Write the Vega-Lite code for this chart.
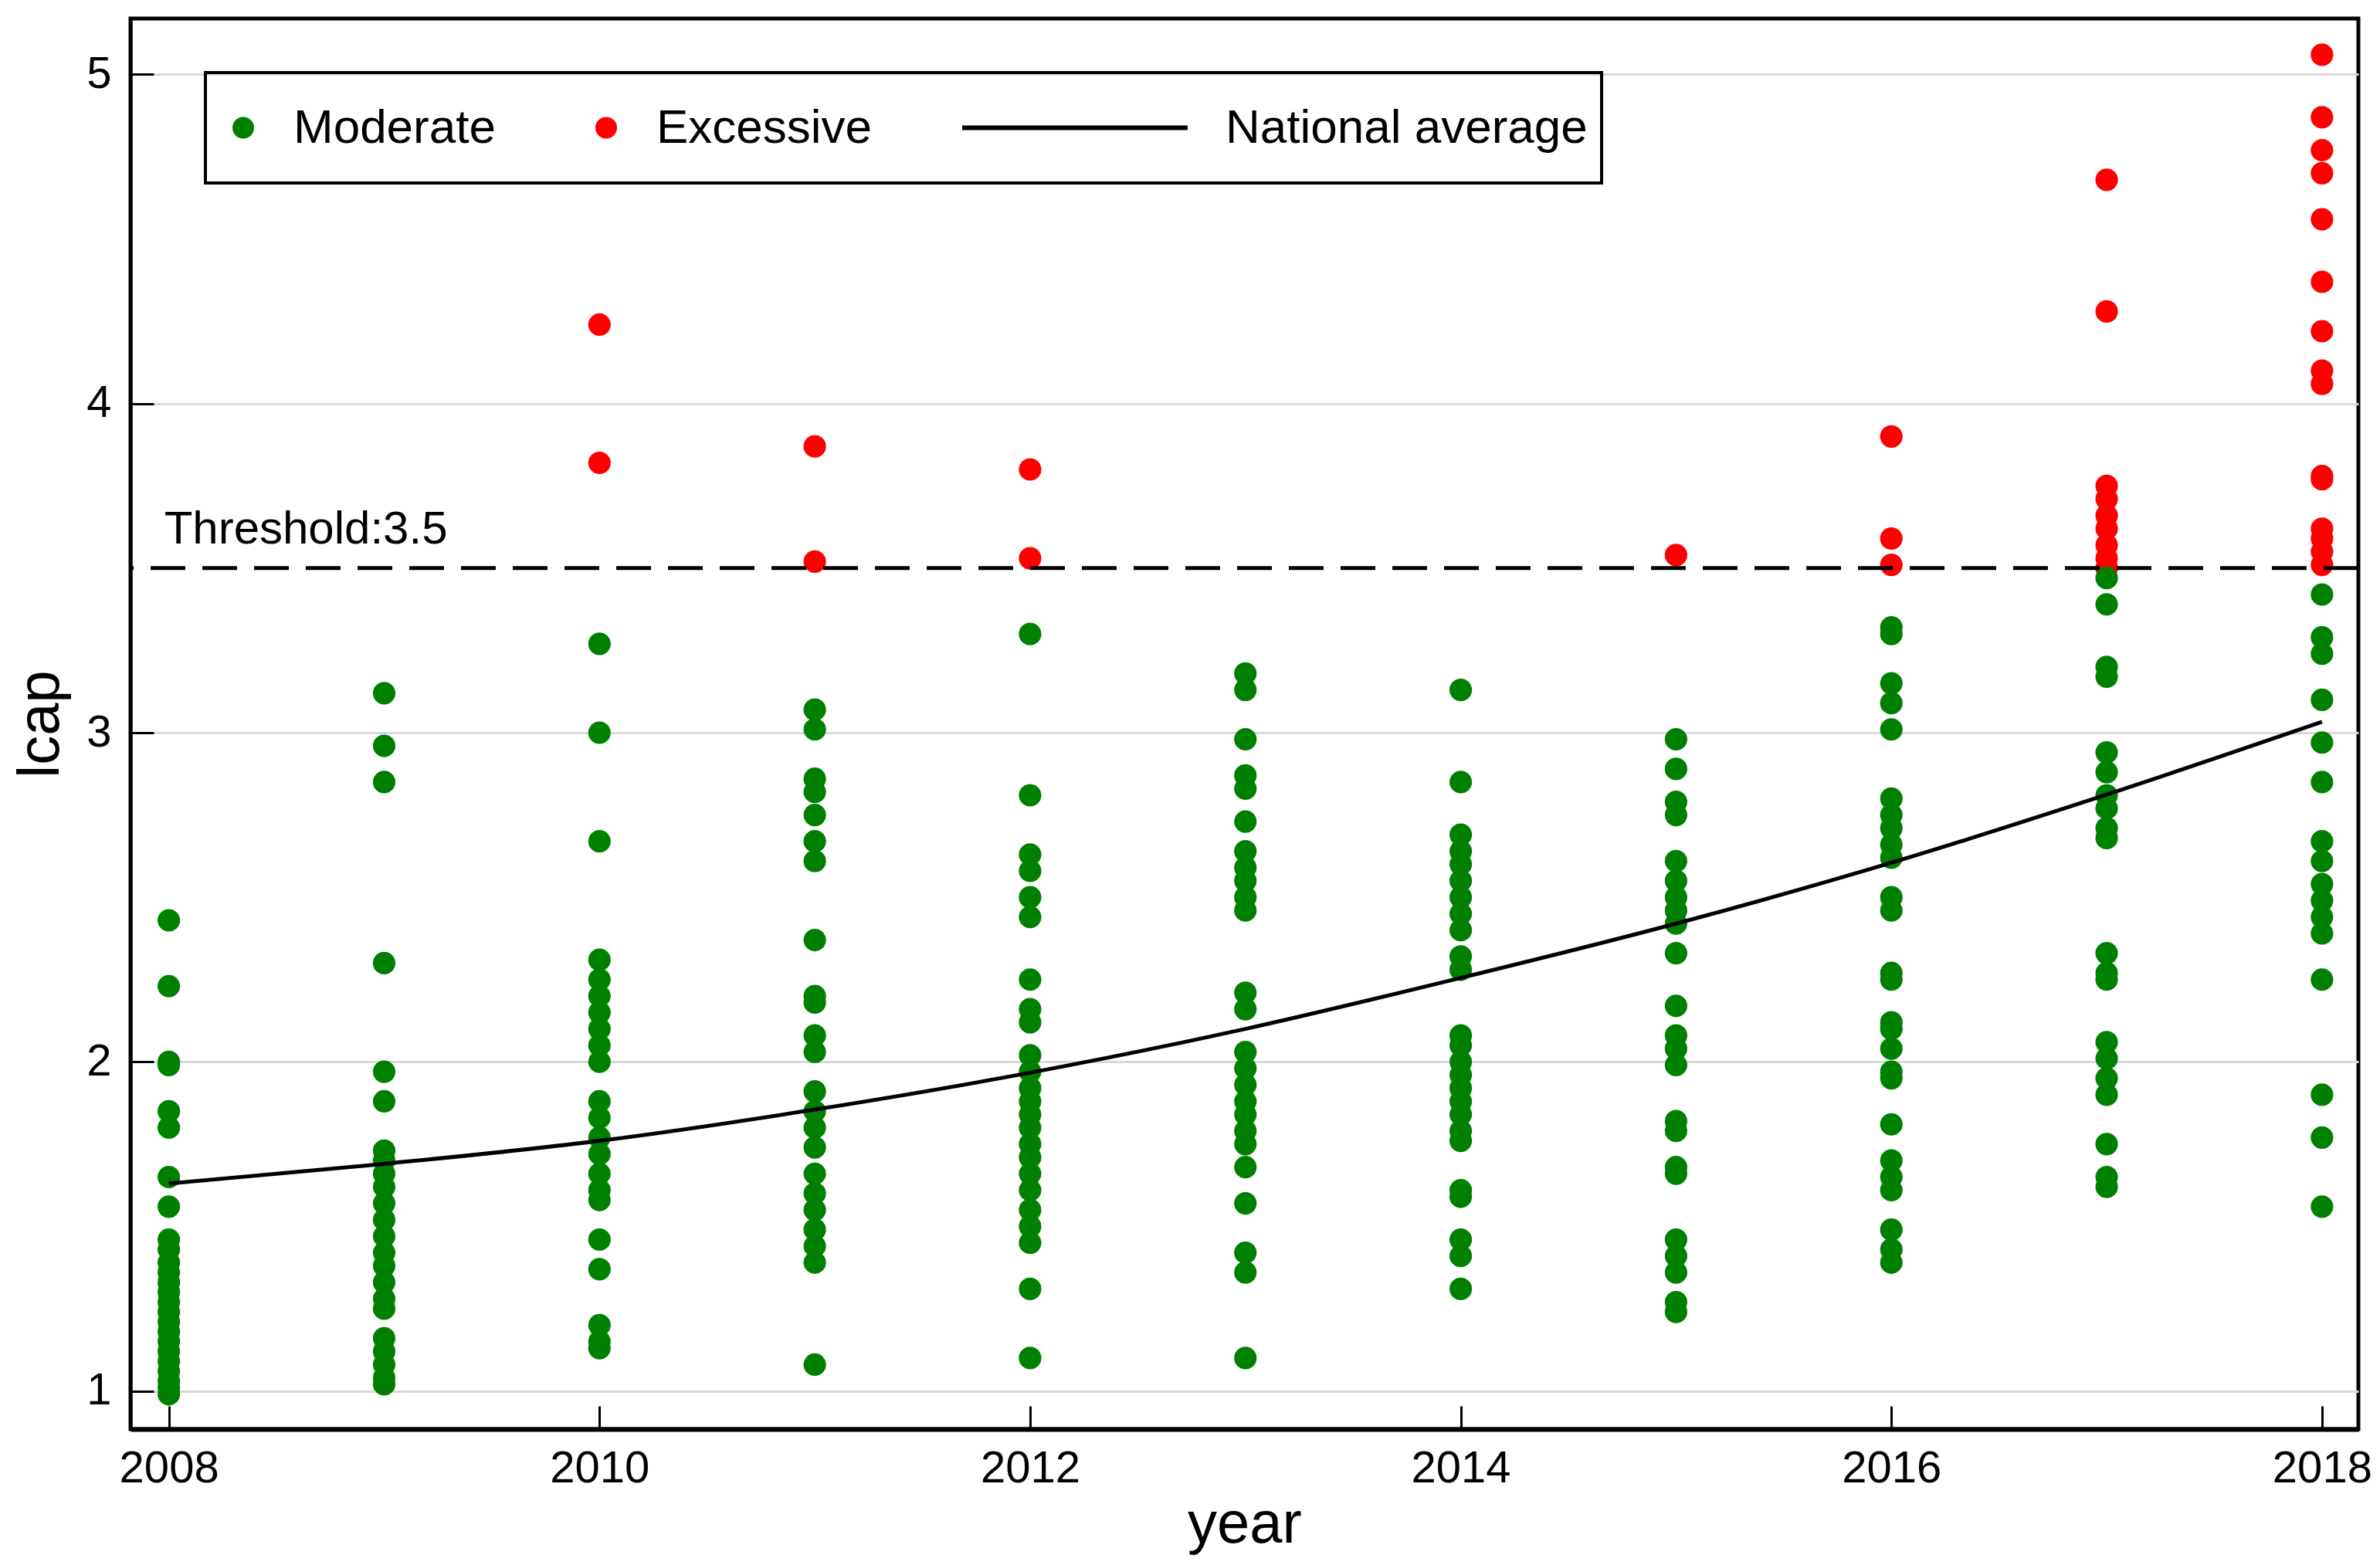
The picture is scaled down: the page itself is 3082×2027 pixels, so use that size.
{
  "$schema": "https://vega.github.io/schema/vega-lite/v6.json",
  "width": 2885,
  "height": 1827,
  "autosize": {"type": "none"},
  "padding": {"left": 169, "top": 24, "right": 28, "bottom": 176},
  "background": "white",
  "config": {
    "font": "Liberation Sans",
    "view": {"stroke": "black", "strokeWidth": 5},
    "axis": {
      "labelFont": "Liberation Sans",
      "titleFont": "Liberation Sans",
      "labelColor": "black",
      "titleColor": "black",
      "labelFontSize": 58,
      "titleFontSize": 76,
      "titleFontWeight": "normal",
      "tickColor": "black",
      "tickWidth": 3,
      "tickSize": -30,
      "domainColor": "black",
      "gridColor": "#d9d9d9",
      "gridWidth": 3
    },
    "legend": {
      "strokeWidth": 4,
      "title": null,
      "orient": "none",
      "legendX": 97,
      "legendY": 70,
      "direction": "horizontal",
      "strokeColor": "black",
      "padding": 18,
      "columnPadding": 112,
      "clipHeight": 107,
      "labelFont": "Liberation Sans",
      "labelFontSize": 62,
      "labelColor": "black",
      "labelLimit": 2000,
      "labelOffset": 34,
      "symbolSize": 784,
      "symbolStrokeWidth": 0
    }
  },
  "datasets": {
    "points": [
      {"year": 2008, "lcap": 2.43, "group": "Moderate"},
      {"year": 2008, "lcap": 2.23, "group": "Moderate"},
      {"year": 2008, "lcap": 2.0, "group": "Moderate"},
      {"year": 2008, "lcap": 1.99, "group": "Moderate"},
      {"year": 2008, "lcap": 1.85, "group": "Moderate"},
      {"year": 2008, "lcap": 1.8, "group": "Moderate"},
      {"year": 2008, "lcap": 1.65, "group": "Moderate"},
      {"year": 2008, "lcap": 1.56, "group": "Moderate"},
      {"year": 2008, "lcap": 1.46, "group": "Moderate"},
      {"year": 2008, "lcap": 1.43, "group": "Moderate"},
      {"year": 2008, "lcap": 1.39, "group": "Moderate"},
      {"year": 2008, "lcap": 1.36, "group": "Moderate"},
      {"year": 2008, "lcap": 1.33, "group": "Moderate"},
      {"year": 2008, "lcap": 1.3, "group": "Moderate"},
      {"year": 2008, "lcap": 1.27, "group": "Moderate"},
      {"year": 2008, "lcap": 1.24, "group": "Moderate"},
      {"year": 2008, "lcap": 1.21, "group": "Moderate"},
      {"year": 2008, "lcap": 1.18, "group": "Moderate"},
      {"year": 2008, "lcap": 1.15, "group": "Moderate"},
      {"year": 2008, "lcap": 1.12, "group": "Moderate"},
      {"year": 2008, "lcap": 1.09, "group": "Moderate"},
      {"year": 2008, "lcap": 1.06, "group": "Moderate"},
      {"year": 2008, "lcap": 1.03, "group": "Moderate"},
      {"year": 2008, "lcap": 1.01, "group": "Moderate"},
      {"year": 2008, "lcap": 0.99, "group": "Moderate"},
      {"year": 2009, "lcap": 3.12, "group": "Moderate"},
      {"year": 2009, "lcap": 2.96, "group": "Moderate"},
      {"year": 2009, "lcap": 2.85, "group": "Moderate"},
      {"year": 2009, "lcap": 2.3, "group": "Moderate"},
      {"year": 2009, "lcap": 1.97, "group": "Moderate"},
      {"year": 2009, "lcap": 1.88, "group": "Moderate"},
      {"year": 2009, "lcap": 1.73, "group": "Moderate"},
      {"year": 2009, "lcap": 1.7, "group": "Moderate"},
      {"year": 2009, "lcap": 1.66, "group": "Moderate"},
      {"year": 2009, "lcap": 1.62, "group": "Moderate"},
      {"year": 2009, "lcap": 1.57, "group": "Moderate"},
      {"year": 2009, "lcap": 1.52, "group": "Moderate"},
      {"year": 2009, "lcap": 1.47, "group": "Moderate"},
      {"year": 2009, "lcap": 1.42, "group": "Moderate"},
      {"year": 2009, "lcap": 1.38, "group": "Moderate"},
      {"year": 2009, "lcap": 1.33, "group": "Moderate"},
      {"year": 2009, "lcap": 1.28, "group": "Moderate"},
      {"year": 2009, "lcap": 1.25, "group": "Moderate"},
      {"year": 2009, "lcap": 1.16, "group": "Moderate"},
      {"year": 2009, "lcap": 1.12, "group": "Moderate"},
      {"year": 2009, "lcap": 1.08, "group": "Moderate"},
      {"year": 2009, "lcap": 1.04, "group": "Moderate"},
      {"year": 2009, "lcap": 1.02, "group": "Moderate"},
      {"year": 2010, "lcap": 4.24, "group": "Excessive"},
      {"year": 2010, "lcap": 3.82, "group": "Excessive"},
      {"year": 2010, "lcap": 3.27, "group": "Moderate"},
      {"year": 2010, "lcap": 3.0, "group": "Moderate"},
      {"year": 2010, "lcap": 2.67, "group": "Moderate"},
      {"year": 2010, "lcap": 2.31, "group": "Moderate"},
      {"year": 2010, "lcap": 2.25, "group": "Moderate"},
      {"year": 2010, "lcap": 2.2, "group": "Moderate"},
      {"year": 2010, "lcap": 2.15, "group": "Moderate"},
      {"year": 2010, "lcap": 2.1, "group": "Moderate"},
      {"year": 2010, "lcap": 2.05, "group": "Moderate"},
      {"year": 2010, "lcap": 2.0, "group": "Moderate"},
      {"year": 2010, "lcap": 1.88, "group": "Moderate"},
      {"year": 2010, "lcap": 1.83, "group": "Moderate"},
      {"year": 2010, "lcap": 1.77, "group": "Moderate"},
      {"year": 2010, "lcap": 1.72, "group": "Moderate"},
      {"year": 2010, "lcap": 1.66, "group": "Moderate"},
      {"year": 2010, "lcap": 1.61, "group": "Moderate"},
      {"year": 2010, "lcap": 1.58, "group": "Moderate"},
      {"year": 2010, "lcap": 1.46, "group": "Moderate"},
      {"year": 2010, "lcap": 1.37, "group": "Moderate"},
      {"year": 2010, "lcap": 1.2, "group": "Moderate"},
      {"year": 2010, "lcap": 1.15, "group": "Moderate"},
      {"year": 2010, "lcap": 1.13, "group": "Moderate"},
      {"year": 2011, "lcap": 3.87, "group": "Excessive"},
      {"year": 2011, "lcap": 3.52, "group": "Excessive"},
      {"year": 2011, "lcap": 3.07, "group": "Moderate"},
      {"year": 2011, "lcap": 3.01, "group": "Moderate"},
      {"year": 2011, "lcap": 2.86, "group": "Moderate"},
      {"year": 2011, "lcap": 2.82, "group": "Moderate"},
      {"year": 2011, "lcap": 2.75, "group": "Moderate"},
      {"year": 2011, "lcap": 2.67, "group": "Moderate"},
      {"year": 2011, "lcap": 2.61, "group": "Moderate"},
      {"year": 2011, "lcap": 2.37, "group": "Moderate"},
      {"year": 2011, "lcap": 2.2, "group": "Moderate"},
      {"year": 2011, "lcap": 2.18, "group": "Moderate"},
      {"year": 2011, "lcap": 2.08, "group": "Moderate"},
      {"year": 2011, "lcap": 2.03, "group": "Moderate"},
      {"year": 2011, "lcap": 1.91, "group": "Moderate"},
      {"year": 2011, "lcap": 1.85, "group": "Moderate"},
      {"year": 2011, "lcap": 1.8, "group": "Moderate"},
      {"year": 2011, "lcap": 1.74, "group": "Moderate"},
      {"year": 2011, "lcap": 1.66, "group": "Moderate"},
      {"year": 2011, "lcap": 1.6, "group": "Moderate"},
      {"year": 2011, "lcap": 1.55, "group": "Moderate"},
      {"year": 2011, "lcap": 1.49, "group": "Moderate"},
      {"year": 2011, "lcap": 1.44, "group": "Moderate"},
      {"year": 2011, "lcap": 1.39, "group": "Moderate"},
      {"year": 2011, "lcap": 1.08, "group": "Moderate"},
      {"year": 2012, "lcap": 3.8, "group": "Excessive"},
      {"year": 2012, "lcap": 3.53, "group": "Excessive"},
      {"year": 2012, "lcap": 3.3, "group": "Moderate"},
      {"year": 2012, "lcap": 2.81, "group": "Moderate"},
      {"year": 2012, "lcap": 2.63, "group": "Moderate"},
      {"year": 2012, "lcap": 2.58, "group": "Moderate"},
      {"year": 2012, "lcap": 2.5, "group": "Moderate"},
      {"year": 2012, "lcap": 2.44, "group": "Moderate"},
      {"year": 2012, "lcap": 2.25, "group": "Moderate"},
      {"year": 2012, "lcap": 2.16, "group": "Moderate"},
      {"year": 2012, "lcap": 2.12, "group": "Moderate"},
      {"year": 2012, "lcap": 2.02, "group": "Moderate"},
      {"year": 2012, "lcap": 1.97, "group": "Moderate"},
      {"year": 2012, "lcap": 1.92, "group": "Moderate"},
      {"year": 2012, "lcap": 1.88, "group": "Moderate"},
      {"year": 2012, "lcap": 1.84, "group": "Moderate"},
      {"year": 2012, "lcap": 1.8, "group": "Moderate"},
      {"year": 2012, "lcap": 1.75, "group": "Moderate"},
      {"year": 2012, "lcap": 1.71, "group": "Moderate"},
      {"year": 2012, "lcap": 1.66, "group": "Moderate"},
      {"year": 2012, "lcap": 1.61, "group": "Moderate"},
      {"year": 2012, "lcap": 1.55, "group": "Moderate"},
      {"year": 2012, "lcap": 1.5, "group": "Moderate"},
      {"year": 2012, "lcap": 1.45, "group": "Moderate"},
      {"year": 2012, "lcap": 1.31, "group": "Moderate"},
      {"year": 2012, "lcap": 1.1, "group": "Moderate"},
      {"year": 2013, "lcap": 3.18, "group": "Moderate"},
      {"year": 2013, "lcap": 3.13, "group": "Moderate"},
      {"year": 2013, "lcap": 2.98, "group": "Moderate"},
      {"year": 2013, "lcap": 2.87, "group": "Moderate"},
      {"year": 2013, "lcap": 2.83, "group": "Moderate"},
      {"year": 2013, "lcap": 2.73, "group": "Moderate"},
      {"year": 2013, "lcap": 2.64, "group": "Moderate"},
      {"year": 2013, "lcap": 2.59, "group": "Moderate"},
      {"year": 2013, "lcap": 2.55, "group": "Moderate"},
      {"year": 2013, "lcap": 2.5, "group": "Moderate"},
      {"year": 2013, "lcap": 2.46, "group": "Moderate"},
      {"year": 2013, "lcap": 2.21, "group": "Moderate"},
      {"year": 2013, "lcap": 2.16, "group": "Moderate"},
      {"year": 2013, "lcap": 2.03, "group": "Moderate"},
      {"year": 2013, "lcap": 1.98, "group": "Moderate"},
      {"year": 2013, "lcap": 1.93, "group": "Moderate"},
      {"year": 2013, "lcap": 1.88, "group": "Moderate"},
      {"year": 2013, "lcap": 1.84, "group": "Moderate"},
      {"year": 2013, "lcap": 1.79, "group": "Moderate"},
      {"year": 2013, "lcap": 1.75, "group": "Moderate"},
      {"year": 2013, "lcap": 1.68, "group": "Moderate"},
      {"year": 2013, "lcap": 1.57, "group": "Moderate"},
      {"year": 2013, "lcap": 1.42, "group": "Moderate"},
      {"year": 2013, "lcap": 1.36, "group": "Moderate"},
      {"year": 2013, "lcap": 1.1, "group": "Moderate"},
      {"year": 2014, "lcap": 3.13, "group": "Moderate"},
      {"year": 2014, "lcap": 2.85, "group": "Moderate"},
      {"year": 2014, "lcap": 2.69, "group": "Moderate"},
      {"year": 2014, "lcap": 2.64, "group": "Moderate"},
      {"year": 2014, "lcap": 2.6, "group": "Moderate"},
      {"year": 2014, "lcap": 2.55, "group": "Moderate"},
      {"year": 2014, "lcap": 2.5, "group": "Moderate"},
      {"year": 2014, "lcap": 2.45, "group": "Moderate"},
      {"year": 2014, "lcap": 2.4, "group": "Moderate"},
      {"year": 2014, "lcap": 2.32, "group": "Moderate"},
      {"year": 2014, "lcap": 2.28, "group": "Moderate"},
      {"year": 2014, "lcap": 2.08, "group": "Moderate"},
      {"year": 2014, "lcap": 2.05, "group": "Moderate"},
      {"year": 2014, "lcap": 2.0, "group": "Moderate"},
      {"year": 2014, "lcap": 1.96, "group": "Moderate"},
      {"year": 2014, "lcap": 1.92, "group": "Moderate"},
      {"year": 2014, "lcap": 1.88, "group": "Moderate"},
      {"year": 2014, "lcap": 1.84, "group": "Moderate"},
      {"year": 2014, "lcap": 1.79, "group": "Moderate"},
      {"year": 2014, "lcap": 1.76, "group": "Moderate"},
      {"year": 2014, "lcap": 1.61, "group": "Moderate"},
      {"year": 2014, "lcap": 1.59, "group": "Moderate"},
      {"year": 2014, "lcap": 1.46, "group": "Moderate"},
      {"year": 2014, "lcap": 1.41, "group": "Moderate"},
      {"year": 2014, "lcap": 1.31, "group": "Moderate"},
      {"year": 2015, "lcap": 3.54, "group": "Excessive"},
      {"year": 2015, "lcap": 2.98, "group": "Moderate"},
      {"year": 2015, "lcap": 2.89, "group": "Moderate"},
      {"year": 2015, "lcap": 2.79, "group": "Moderate"},
      {"year": 2015, "lcap": 2.75, "group": "Moderate"},
      {"year": 2015, "lcap": 2.61, "group": "Moderate"},
      {"year": 2015, "lcap": 2.55, "group": "Moderate"},
      {"year": 2015, "lcap": 2.5, "group": "Moderate"},
      {"year": 2015, "lcap": 2.46, "group": "Moderate"},
      {"year": 2015, "lcap": 2.42, "group": "Moderate"},
      {"year": 2015, "lcap": 2.33, "group": "Moderate"},
      {"year": 2015, "lcap": 2.17, "group": "Moderate"},
      {"year": 2015, "lcap": 2.08, "group": "Moderate"},
      {"year": 2015, "lcap": 2.04, "group": "Moderate"},
      {"year": 2015, "lcap": 1.99, "group": "Moderate"},
      {"year": 2015, "lcap": 1.82, "group": "Moderate"},
      {"year": 2015, "lcap": 1.79, "group": "Moderate"},
      {"year": 2015, "lcap": 1.68, "group": "Moderate"},
      {"year": 2015, "lcap": 1.66, "group": "Moderate"},
      {"year": 2015, "lcap": 1.46, "group": "Moderate"},
      {"year": 2015, "lcap": 1.41, "group": "Moderate"},
      {"year": 2015, "lcap": 1.36, "group": "Moderate"},
      {"year": 2015, "lcap": 1.27, "group": "Moderate"},
      {"year": 2015, "lcap": 1.24, "group": "Moderate"},
      {"year": 2016, "lcap": 3.9, "group": "Excessive"},
      {"year": 2016, "lcap": 3.59, "group": "Excessive"},
      {"year": 2016, "lcap": 3.51, "group": "Excessive"},
      {"year": 2016, "lcap": 3.32, "group": "Moderate"},
      {"year": 2016, "lcap": 3.3, "group": "Moderate"},
      {"year": 2016, "lcap": 3.15, "group": "Moderate"},
      {"year": 2016, "lcap": 3.09, "group": "Moderate"},
      {"year": 2016, "lcap": 3.01, "group": "Moderate"},
      {"year": 2016, "lcap": 2.8, "group": "Moderate"},
      {"year": 2016, "lcap": 2.75, "group": "Moderate"},
      {"year": 2016, "lcap": 2.71, "group": "Moderate"},
      {"year": 2016, "lcap": 2.66, "group": "Moderate"},
      {"year": 2016, "lcap": 2.62, "group": "Moderate"},
      {"year": 2016, "lcap": 2.5, "group": "Moderate"},
      {"year": 2016, "lcap": 2.46, "group": "Moderate"},
      {"year": 2016, "lcap": 2.27, "group": "Moderate"},
      {"year": 2016, "lcap": 2.25, "group": "Moderate"},
      {"year": 2016, "lcap": 2.12, "group": "Moderate"},
      {"year": 2016, "lcap": 2.1, "group": "Moderate"},
      {"year": 2016, "lcap": 2.04, "group": "Moderate"},
      {"year": 2016, "lcap": 1.97, "group": "Moderate"},
      {"year": 2016, "lcap": 1.95, "group": "Moderate"},
      {"year": 2016, "lcap": 1.81, "group": "Moderate"},
      {"year": 2016, "lcap": 1.7, "group": "Moderate"},
      {"year": 2016, "lcap": 1.65, "group": "Moderate"},
      {"year": 2016, "lcap": 1.61, "group": "Moderate"},
      {"year": 2016, "lcap": 1.49, "group": "Moderate"},
      {"year": 2016, "lcap": 1.43, "group": "Moderate"},
      {"year": 2016, "lcap": 1.39, "group": "Moderate"},
      {"year": 2017, "lcap": 4.68, "group": "Excessive"},
      {"year": 2017, "lcap": 4.28, "group": "Excessive"},
      {"year": 2017, "lcap": 3.75, "group": "Excessive"},
      {"year": 2017, "lcap": 3.71, "group": "Excessive"},
      {"year": 2017, "lcap": 3.66, "group": "Excessive"},
      {"year": 2017, "lcap": 3.62, "group": "Excessive"},
      {"year": 2017, "lcap": 3.57, "group": "Excessive"},
      {"year": 2017, "lcap": 3.53, "group": "Excessive"},
      {"year": 2017, "lcap": 3.5, "group": "Excessive"},
      {"year": 2017, "lcap": 3.47, "group": "Moderate"},
      {"year": 2017, "lcap": 3.39, "group": "Moderate"},
      {"year": 2017, "lcap": 3.2, "group": "Moderate"},
      {"year": 2017, "lcap": 3.17, "group": "Moderate"},
      {"year": 2017, "lcap": 2.94, "group": "Moderate"},
      {"year": 2017, "lcap": 2.88, "group": "Moderate"},
      {"year": 2017, "lcap": 2.81, "group": "Moderate"},
      {"year": 2017, "lcap": 2.77, "group": "Moderate"},
      {"year": 2017, "lcap": 2.71, "group": "Moderate"},
      {"year": 2017, "lcap": 2.68, "group": "Moderate"},
      {"year": 2017, "lcap": 2.33, "group": "Moderate"},
      {"year": 2017, "lcap": 2.27, "group": "Moderate"},
      {"year": 2017, "lcap": 2.25, "group": "Moderate"},
      {"year": 2017, "lcap": 2.06, "group": "Moderate"},
      {"year": 2017, "lcap": 2.01, "group": "Moderate"},
      {"year": 2017, "lcap": 1.95, "group": "Moderate"},
      {"year": 2017, "lcap": 1.9, "group": "Moderate"},
      {"year": 2017, "lcap": 1.75, "group": "Moderate"},
      {"year": 2017, "lcap": 1.65, "group": "Moderate"},
      {"year": 2017, "lcap": 1.62, "group": "Moderate"},
      {"year": 2018, "lcap": 5.06, "group": "Excessive"},
      {"year": 2018, "lcap": 4.87, "group": "Excessive"},
      {"year": 2018, "lcap": 4.77, "group": "Excessive"},
      {"year": 2018, "lcap": 4.7, "group": "Excessive"},
      {"year": 2018, "lcap": 4.56, "group": "Excessive"},
      {"year": 2018, "lcap": 4.37, "group": "Excessive"},
      {"year": 2018, "lcap": 4.22, "group": "Excessive"},
      {"year": 2018, "lcap": 4.1, "group": "Excessive"},
      {"year": 2018, "lcap": 4.06, "group": "Excessive"},
      {"year": 2018, "lcap": 3.78, "group": "Excessive"},
      {"year": 2018, "lcap": 3.77, "group": "Excessive"},
      {"year": 2018, "lcap": 3.62, "group": "Excessive"},
      {"year": 2018, "lcap": 3.59, "group": "Excessive"},
      {"year": 2018, "lcap": 3.55, "group": "Excessive"},
      {"year": 2018, "lcap": 3.51, "group": "Excessive"},
      {"year": 2018, "lcap": 3.42, "group": "Moderate"},
      {"year": 2018, "lcap": 3.29, "group": "Moderate"},
      {"year": 2018, "lcap": 3.24, "group": "Moderate"},
      {"year": 2018, "lcap": 3.1, "group": "Moderate"},
      {"year": 2018, "lcap": 2.97, "group": "Moderate"},
      {"year": 2018, "lcap": 2.85, "group": "Moderate"},
      {"year": 2018, "lcap": 2.67, "group": "Moderate"},
      {"year": 2018, "lcap": 2.61, "group": "Moderate"},
      {"year": 2018, "lcap": 2.54, "group": "Moderate"},
      {"year": 2018, "lcap": 2.49, "group": "Moderate"},
      {"year": 2018, "lcap": 2.44, "group": "Moderate"},
      {"year": 2018, "lcap": 2.39, "group": "Moderate"},
      {"year": 2018, "lcap": 2.25, "group": "Moderate"},
      {"year": 2018, "lcap": 1.9, "group": "Moderate"},
      {"year": 2018, "lcap": 1.77, "group": "Moderate"},
      {"year": 2018, "lcap": 1.56, "group": "Moderate"}
    ],
    "average": [
      {"year": 2008, "lcap": 1.63, "group": "National average"},
      {"year": 2009, "lcap": 1.69, "group": "National average"},
      {"year": 2010, "lcap": 1.76, "group": "National average"},
      {"year": 2011, "lcap": 1.855, "group": "National average"},
      {"year": 2012, "lcap": 1.967, "group": "National average"},
      {"year": 2013, "lcap": 2.1, "group": "National average"},
      {"year": 2014, "lcap": 2.255, "group": "National average"},
      {"year": 2015, "lcap": 2.42, "group": "National average"},
      {"year": 2016, "lcap": 2.605, "group": "National average"},
      {"year": 2017, "lcap": 2.812, "group": "National average"},
      {"year": 2018, "lcap": 3.033, "group": "National average"}
    ],
    "threshold": [
      {"year": 2008, "lcap": 3.5, "label": "Threshold:3.5"}
    ]
  },
  "layer": [
    {
      "data": {"name": "points"},
      "mark": {"type": "circle", "size": 850, "opacity": 1},
      "encoding": {
        "x": {
          "field": "year",
          "type": "quantitative",
          "scale": {"domain": [2007.822, 2018.169], "nice": false, "zero": false},
          "axis": {
            "title": "year",
            "values": [2008, 2010, 2012, 2014, 2016, 2018],
            "format": "d",
            "grid": false,
            "domainWidth": 6,
            "labelPadding": 52,
            "titlePadding": 6
          }
        },
        "y": {
          "field": "lcap",
          "type": "quantitative",
          "scale": {"domain": [0.884, 5.17], "nice": false, "zero": false},
          "axis": {
            "title": "lcap",
            "values": [1, 2, 3, 4, 5],
            "format": "d",
            "grid": true,
            "domainWidth": 4,
            "labelPadding": 55,
            "titlePadding": 20
          }
        },
        "color": {
          "field": "group",
          "type": "nominal",
          "scale": {
            "domain": ["Moderate", "Excessive", "National average"],
            "range": ["#008000", "#ff0000", "#000000"]
          },
          "legend": {
            "encode": {
              "symbols": {
                "update": {
                  "shape": {"signal": "datum.value === 'National average' ? 'M-1.93,0H18.92M59.5,0' : 'circle'"},
                  "size": {"value": 784},
                  "strokeWidth": {"signal": "datum.value === 'National average' ? 6 : 0"},
                  "stroke": {"signal": "datum.value === 'National average' ? '#000000' : 'transparent'"},
                  "fill": {"signal": "datum.value === 'Moderate' ? '#008000' : (datum.value === 'Excessive' ? '#ff0000' : 'transparent')"},
                  "opacity": {"value": 1}
                }
              },
              "labels": {
                "update": {
                  "dx": {"signal": "datum.value === 'National average' ? 249 : 0"}
                }
              }
            }
          }
        }
      }
    },
    {
      "data": {"name": "threshold"},
      "mark": {"type": "rule", "color": "black", "strokeWidth": 5, "strokeDash": [45, 22]},
      "encoding": {
        "y": {"field": "lcap", "type": "quantitative"}
      }
    },
    {
      "data": {"name": "average"},
      "mark": {"type": "line", "strokeWidth": 5, "interpolate": "monotone"},
      "encoding": {
        "x": {"field": "year", "type": "quantitative"},
        "y": {"field": "lcap", "type": "quantitative"},
        "color": {
          "field": "group",
          "type": "nominal",
          "legend": {
            "encode": {
              "symbols": {
                "update": {
                  "shape": {"signal": "datum.value === 'National average' ? 'M-1.93,0H18.92M59.5,0' : 'circle'"},
                  "size": {"value": 784},
                  "strokeWidth": {"signal": "datum.value === 'National average' ? 6 : 0"},
                  "stroke": {"signal": "datum.value === 'National average' ? '#000000' : 'transparent'"},
                  "fill": {"signal": "datum.value === 'Moderate' ? '#008000' : (datum.value === 'Excessive' ? '#ff0000' : 'transparent')"},
                  "opacity": {"value": 1}
                }
              },
              "labels": {
                "update": {
                  "dx": {"signal": "datum.value === 'National average' ? 249 : 0"}
                }
              }
            }
          }
        }
      }
    },
    {
      "data": {"name": "threshold"},
      "mark": {"type": "text", "align": "left", "baseline": "alphabetic", "dx": -6, "dy": -32, "fontSize": 60, "font": "Liberation Sans", "color": "black"},
      "encoding": {
        "x": {"field": "year", "type": "quantitative"},
        "y": {"field": "lcap", "type": "quantitative"},
        "text": {"field": "label"}
      }
    }
  ]
}
